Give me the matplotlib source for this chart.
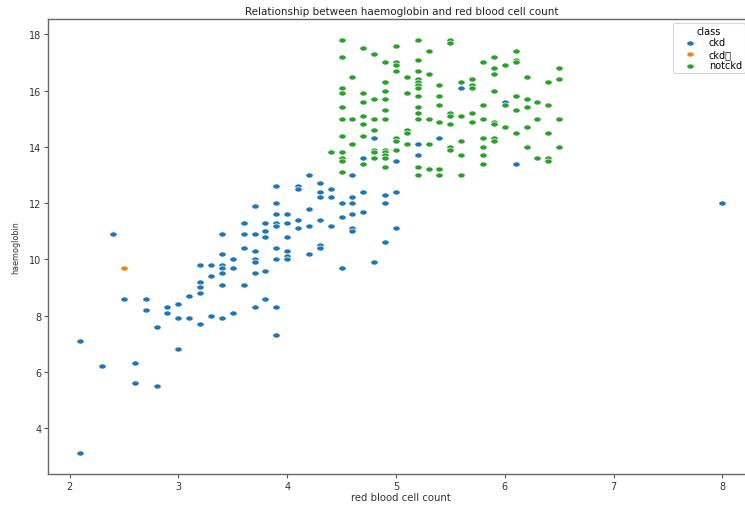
import numpy as np
import matplotlib
matplotlib.use("Agg")
import matplotlib.pyplot as plt
from matplotlib.path import Path

# ---- data (red blood cell count, haemoglobin) ----
ckd_rbc = [2.1, 2.1, 2.3, 2.4, 2.5, 2.6, 2.6, 2.7, 2.7, 2.8, 2.8, 2.9, 2.9,
           3.0, 3.0, 3.0, 3.1, 3.1,
           3.2, 3.2, 3.2, 3.2, 3.2, 3.3, 3.3, 3.3,
           3.4, 3.4, 3.4, 3.4, 3.4, 3.4, 3.4, 3.5, 3.5, 3.5,
           3.6, 3.6, 3.6, 3.6, 3.7, 3.7, 3.7, 3.7, 3.7, 3.7, 3.7,
           3.8, 3.8, 3.8, 3.8, 3.8,
           3.9, 3.9, 3.9, 3.9, 3.9, 3.9, 3.9, 3.9, 3.9,
           4.0, 4.0, 4.0, 4.0, 4.0, 4.0, 4.1, 4.1, 4.1, 4.1,
           4.2, 4.2, 4.2, 4.2, 4.3, 4.3, 4.3, 4.3, 4.3, 4.3,
           4.4, 4.4, 4.4, 4.5, 4.5, 4.5,
           4.6, 4.6, 4.6, 4.6, 4.6, 4.6, 4.7, 4.7, 4.7, 4.8, 4.8,
           4.9, 4.9, 4.9, 5.0, 5.0, 5.0, 5.2, 5.2, 5.4, 5.6, 6.0, 6.1, 8.0]
ckd_hemo = [3.1, 7.1, 6.2, 10.9, 8.6, 6.3, 5.6, 8.6, 8.2, 7.6, 5.5, 8.3, 8.1,
            8.4, 7.9, 6.8, 8.7, 7.9,
            9.8, 9.2, 9.0, 8.8, 7.7, 9.8, 9.4, 8.0,
            10.9, 10.2, 9.8, 9.7, 9.5, 9.1, 7.9, 10.0, 9.7, 8.1,
            11.3, 10.9, 10.4, 9.1, 11.9, 10.9, 10.3, 10.0, 9.9, 9.5, 8.3,
            11.3, 11.0, 10.8, 9.6, 8.6,
            12.6, 12.0, 11.6, 11.3, 11.2, 10.4, 10.0, 8.3, 7.3,
            11.6, 11.3, 10.8, 10.3, 10.1, 10.0, 12.6, 12.5, 11.4, 11.1,
            13.0, 11.8, 11.2, 10.2, 12.7, 12.4, 12.2, 11.4, 10.5, 10.4,
            12.5, 12.2, 11.2, 12.0, 11.5, 9.7,
            13.0, 12.2, 12.0, 11.6, 11.1, 11.0, 13.6, 12.4, 11.7, 14.3, 9.9,
            12.3, 12.0, 10.6, 13.5, 12.4, 11.1, 14.1, 13.7, 14.3, 16.1, 15.6, 13.4, 12.0]

ckdt_rbc = [2.5]
ckdt_hemo = [9.7]

notckd_rbc = [4.4,
              4.5, 4.5, 4.5, 4.5, 4.5, 4.5, 4.5, 4.5, 4.5, 4.5, 4.5,
              4.6, 4.6, 4.6,
              4.7, 4.7, 4.7, 4.7, 4.7, 4.7, 4.7,
              4.8, 4.8, 4.8, 4.8, 4.8, 4.8, 4.8,
              4.9, 4.9, 4.9, 4.9, 4.9, 4.9, 4.9, 4.9, 4.9, 4.9, 4.9,
              5.0, 5.0, 5.0, 5.0, 5.0, 5.0, 5.0,
              5.1, 5.1, 5.1, 5.1, 5.1,
              5.2, 5.2, 5.2, 5.2, 5.2, 5.2, 5.2, 5.2, 5.2, 5.2, 5.2, 5.2, 5.2,
              5.3, 5.3, 5.3, 5.3, 5.3,
              5.4, 5.4, 5.4, 5.4, 5.4, 5.4,
              5.5, 5.5, 5.5, 5.5, 5.5, 5.5, 5.5,
              5.6, 5.6, 5.6, 5.6, 5.6,
              5.7, 5.7, 5.7, 5.7, 5.7,
              5.8, 5.8, 5.8, 5.8, 5.8, 5.8, 5.8,
              5.9, 5.9, 5.9, 5.9, 5.9, 5.9, 5.9, 5.9,
              6.0, 6.0, 6.0,
              6.1, 6.1, 6.1, 6.1, 6.1, 6.1,
              6.2, 6.2, 6.2, 6.2, 6.2,
              6.3, 6.3, 6.3,
              6.4, 6.4, 6.4, 6.4, 6.4,
              6.5, 6.5, 6.5, 6.5]
notckd_hemo = [13.8,
               17.8, 17.2, 16.1, 15.9, 15.4, 15.0, 14.4, 13.8, 13.6, 13.5, 13.1,
               16.5, 15.0, 14.1,
               17.5, 15.9, 15.6, 15.1, 14.8, 14.4, 13.4,
               17.3, 15.7, 15.0, 14.6, 13.9, 13.8, 13.6,
               17.0, 16.3, 16.0, 15.7, 15.3, 15.0, 13.9, 13.8, 13.7, 13.6, 13.3,
               17.6, 17.0, 16.9, 16.7, 14.3, 14.2, 13.9,
               16.5, 15.9, 14.6, 14.5, 14.1,
               17.8, 17.1, 16.7, 16.4, 16.3, 16.2, 16.1, 15.8, 15.4, 15.2, 15.0, 13.3, 13.0,
               17.4, 16.6, 15.0, 14.1, 13.2,
               16.2, 15.8, 15.5, 14.9, 13.2, 13.0,
               17.8, 17.7, 15.2, 15.1, 14.8, 14.0, 13.9,
               16.3, 15.1, 14.2, 13.7, 13.0,
               16.4, 16.2, 16.1, 15.2, 14.9,
               17.0, 15.5, 15.0, 14.3, 14.0, 13.7, 13.4,
               17.2, 16.8, 16.6, 16.0, 14.9, 14.8, 14.3, 14.2,
               16.9, 15.5, 14.7,
               17.4, 17.1, 17.0, 15.8, 15.3, 14.5,
               16.5, 15.7, 15.4, 14.7, 14.0,
               15.6, 15.0, 13.6,
               16.3, 15.5, 14.5, 13.6, 13.5,
               16.8, 16.4, 15.0, 14.0]

class_labels = ["ckd", "ckd\t", "notckd"]
colors = ["#1f77b4", "#ff7f0e", "#2ca02c"]

xticks = [2, 3, 4, 5, 6, 7, 8]
yticks = [4, 6, 8, 10, 12, 14, 16, 18]

# elliptical marker (reference image is slightly squashed vertically)
t = np.linspace(0, 2 * np.pi, 41)
ell = Path(np.column_stack([np.cos(t), 0.7 * np.sin(t)]), closed=True)

W, H = 745, 506
fig = plt.figure(figsize=(W / 100, H / 100), dpi=100)
ax = fig.add_axes([48.3 / W, 31 / H, (754.5 - 48.3) / W, (475 - 20.3) / H])

series = [(ckd_rbc, ckd_hemo), (ckdt_rbc, ckdt_hemo), (notckd_rbc, notckd_hemo)]
for (xs, ys), lab, c in zip(series, class_labels, colors):
    ax.scatter(xs, ys, s=28, marker=ell, color=c, edgecolor="white",
               linewidth=0.5, label=lab)

ax.set_xlim(1.805, 8.295)
ax.set_ylim(2.365, 18.535)
ax.set_xticks(xticks)
ax.set_yticks(yticks)
ax.tick_params(labelsize=7, length=3, width=0.8, color="#555555", labelcolor="#333333", pad=2)
for sp in ax.spines.values():
    sp.set_color("#666666")
    sp.set_linewidth(1.0)

ax.set_title("Relationship between haemoglobin and red blood cell count",
             fontsize=7.5, color="#222222", pad=4)
ax.set_xlabel("red blood cell count", fontsize=7.3, color="#333333", labelpad=1)
ax.set_ylabel("haemoglobin", fontsize=5.8, color="#333333", labelpad=6)

leg = ax.legend(title="class", loc="upper left",
                bbox_to_anchor=(673 / W, 1 - 24 / H), bbox_transform=fig.transFigure,
                borderaxespad=0, fontsize=7, title_fontsize=7,
                labelspacing=0.15, handlelength=2.8, handletextpad=0.6,
                borderpad=0.3, markerscale=1.0, frameon=True)
leg.get_frame().set_edgecolor("#cccccc")
leg.get_frame().set_linewidth(0.8)

fig.savefig("out.png", dpi=100)
